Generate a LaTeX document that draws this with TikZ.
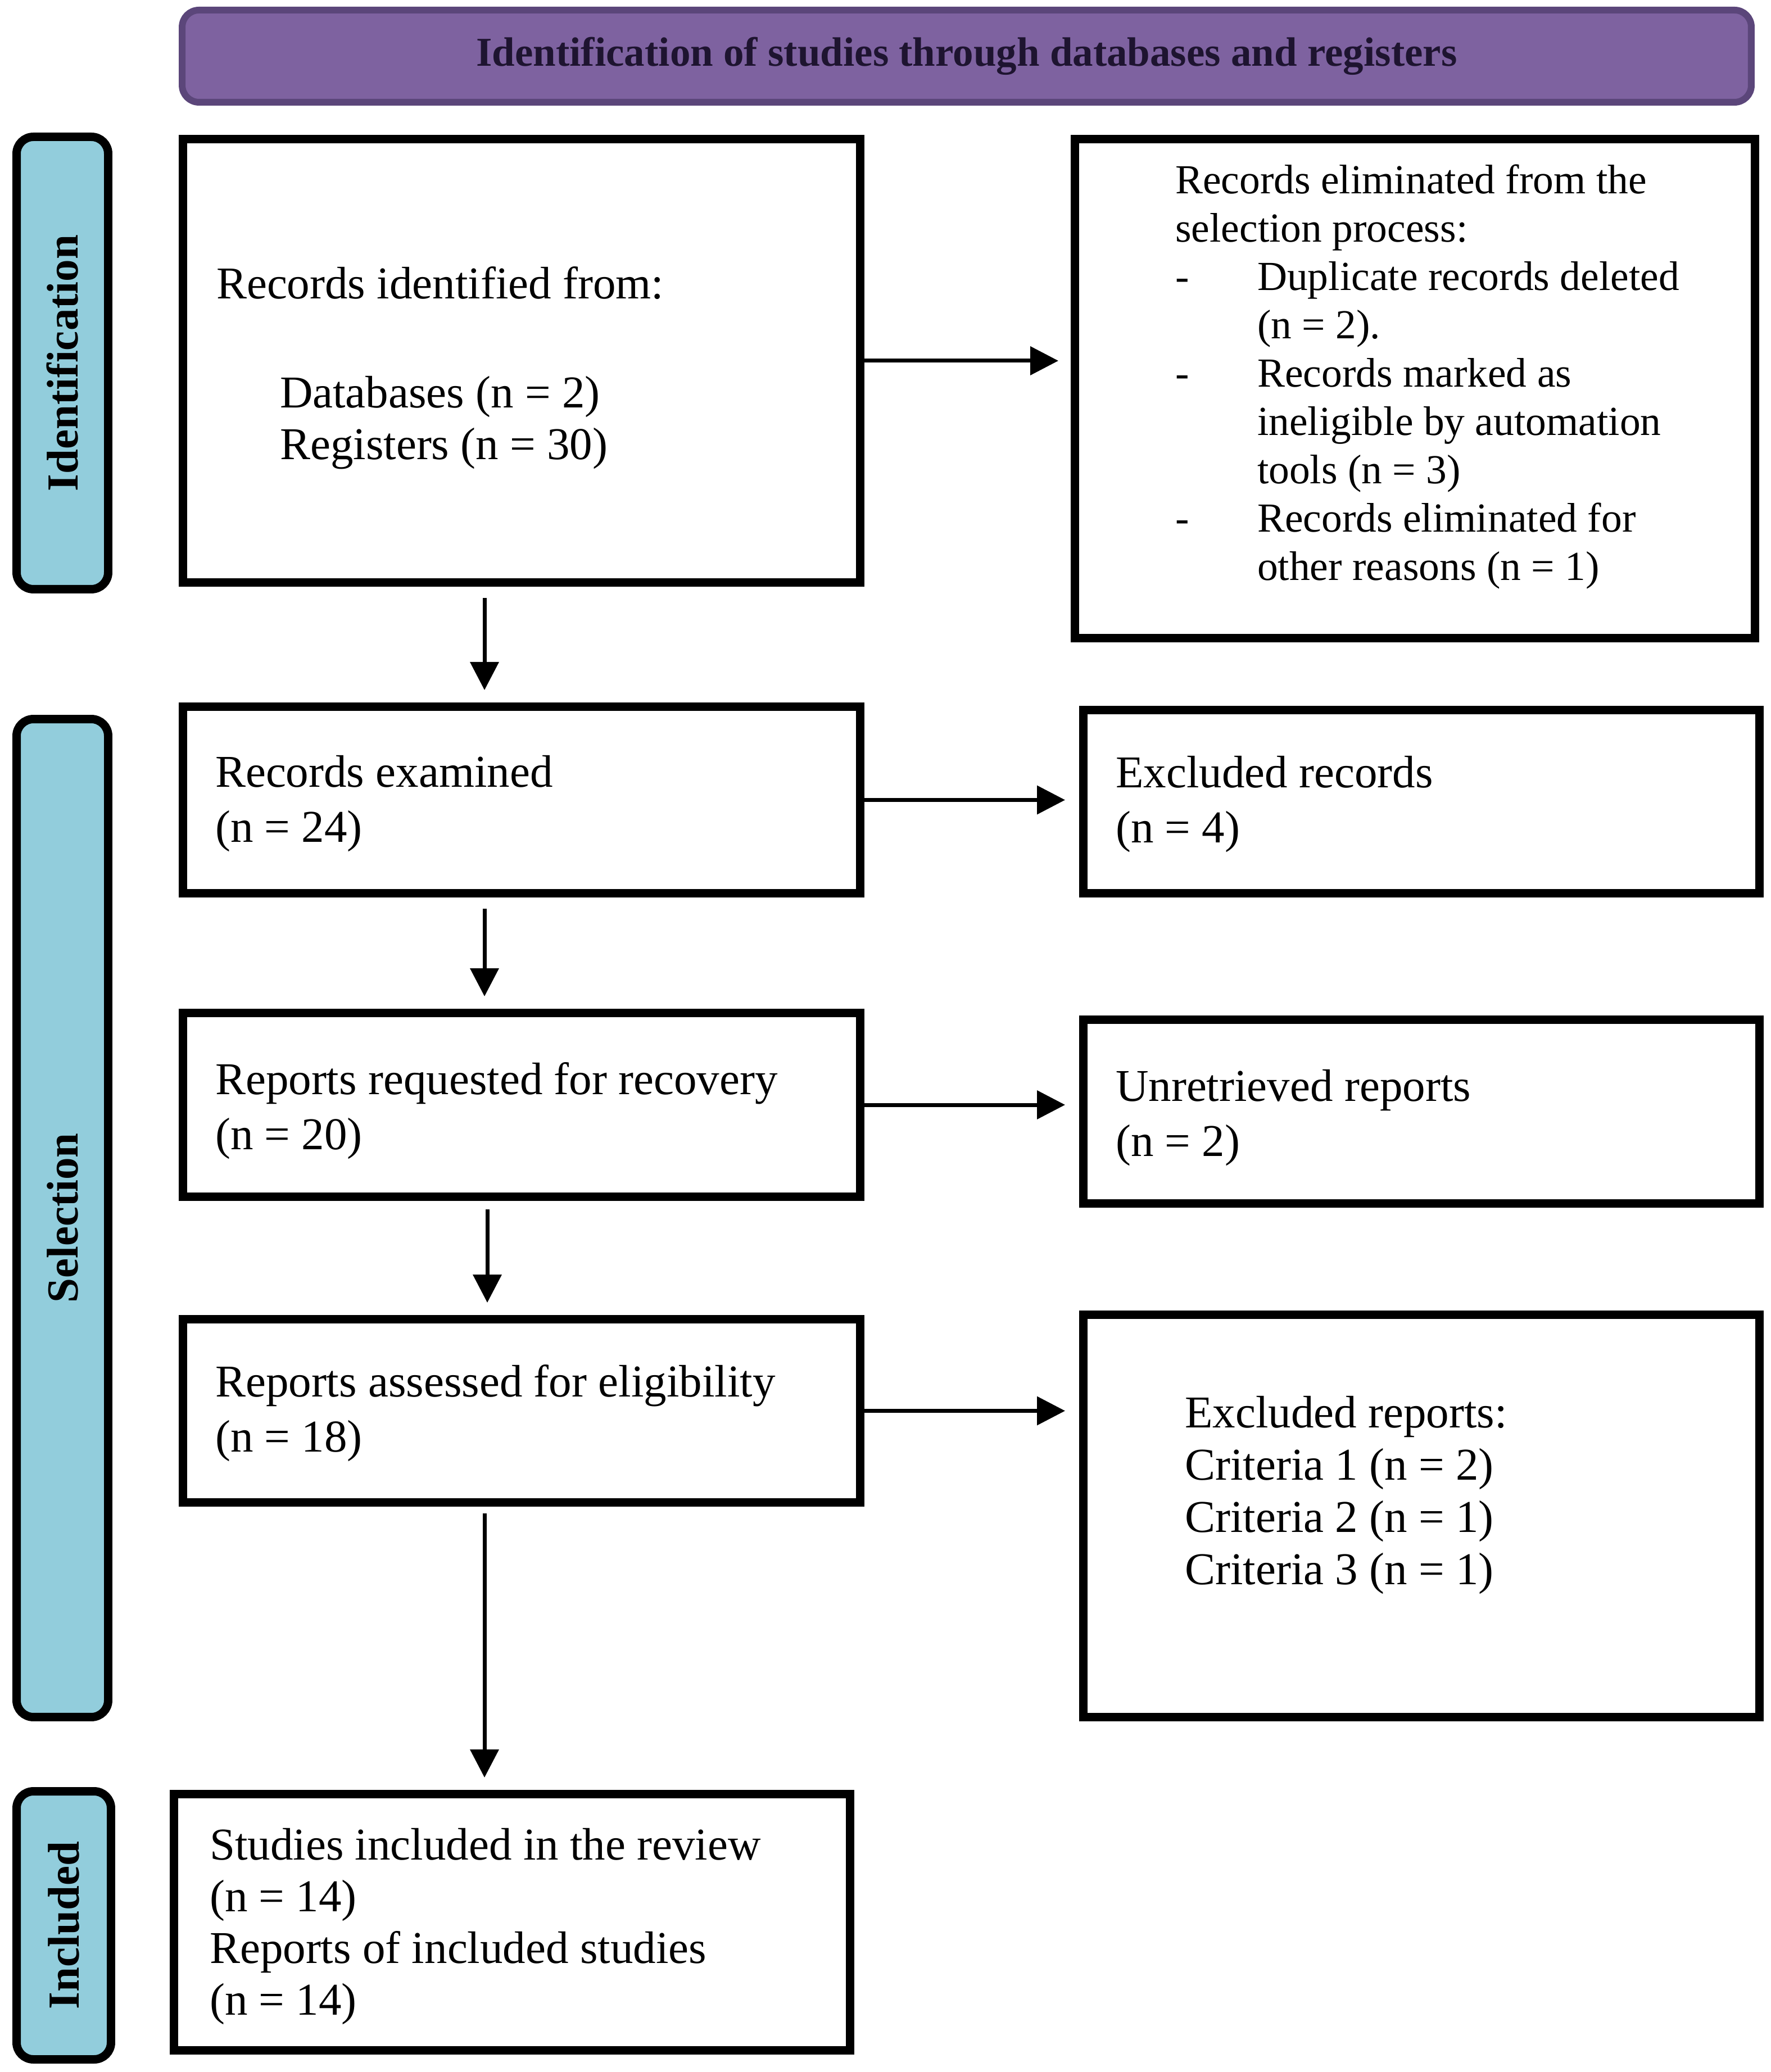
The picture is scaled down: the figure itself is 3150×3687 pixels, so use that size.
\documentclass[tikz,border=0pt]{standalone}
\usepackage{fontspec}
\setmainfont{Liberation Serif}
\usetikzlibrary{arrows.meta}
\definecolor{hdrfill}{HTML}{7E62A0}
\definecolor{hdrdraw}{HTML}{5B467A}
\definecolor{hdrtext}{HTML}{1E1430}
\definecolor{barfill}{HTML}{92CDDC}
\tikzset{
  box/.style={draw, line width=1.5pt, fill=white, inner sep=0pt},
  bar/.style={draw, line width=1.5pt, fill=barfill, rounded corners=3pt, inner sep=0pt},
  txt/.style={align=left, inner sep=0pt, font=\fontsize{8.1pt}{9.2pt}\selectfont},
  txtw/.style={align=left, inner sep=0pt, font=\fontsize{8.1pt}{9.8pt}\selectfont},
  arr/.style={line width=0.7pt, -{Triangle[length=5pt,width=5pt]}},
  lbl/.style={font=\fontsize{7.9pt}{9pt}\selectfont\bfseries, rotate=90, inner sep=0pt},
  hdr/.style={draw=hdrdraw, line width=1.2pt, fill=hdrfill, rounded corners=3pt, inner sep=0pt,
    text=hdrtext, font=\fontsize{7.3pt}{9pt}\selectfont\bfseries}
}
\newcommand{\dsh}{\makebox[14.6pt][l]{-}}
\begin{document}
\begin{tikzpicture}[x=0.1pt, y=-0.1pt]
\useasboundingbox (0,0) rectangle (3150,3687);

% header
\node[hdr, minimum width=279.2pt, minimum height=16.4pt] (hd) at (1720,100)
  {Identification of studies through databases and registers};

% side bars
\node[bar, minimum width=16.3pt, minimum height=80.5pt] (sb1) at (111,646) {};
\node[bar, minimum width=16.3pt, minimum height=177.6pt] (sb2) at (111,2167.5) {};
\node[bar, minimum width=16.8pt, minimum height=47.7pt] (sb3) at (113.5,3426) {};
\node[lbl] (l1) at (sb1) {Identification};
\node[lbl] (l2) at (sb2) {Selection};
\node[lbl] (l3) at (sb3) {Included};

% left column
\node[box, minimum width=120.5pt, minimum height=78.9pt] (b1) at (928,642) {};
\node[box, minimum width=120.5pt, minimum height=33.2pt] (b2) at (928,1423.5) {};
\node[box, minimum width=120.5pt, minimum height=32.7pt] (b3) at (928,1966) {};
\node[box, minimum width=120.5pt, minimum height=32.6pt] (b4) at (928,2510.5) {};
\node[box, minimum width=120.3pt, minimum height=45.6pt] (b5) at (911,3420.5) {};

% right column
\node[box, minimum width=121pt, minimum height=88.8pt] (r1) at (2517.5,691.5) {};
\node[box, minimum width=120.3pt, minimum height=32.6pt] (r2) at (2529,1426.5) {};
\node[box, minimum width=120.3pt, minimum height=32.7pt] (r3) at (2529,1978) {};
\node[box, minimum width=120.3pt, minimum height=71.6pt] (r4) at (2529,2697.5) {};

% texts
\node[txt, anchor=west] (t1) at ([xshift=6.5pt, yshift=-1.3pt]b1.west)
  {Records identified from:\\[10.2pt]
   \hspace*{11.3pt}Databases (n = 2)\\
   \hspace*{11.3pt}Registers (n = 30)};
\node[txtw, anchor=west] (t2) at ([xshift=6.3pt, yshift=-0.7pt]b2.west) {Records examined\\(n = 24)};
\node[txtw, anchor=west] (t3) at ([xshift=6.3pt, yshift=-1.1pt]b3.west) {Reports requested for recovery\\(n = 20)};
\node[txtw, anchor=west] (t4) at ([xshift=6.3pt, yshift=-0.4pt]b4.west) {Reports assessed for eligibility\\(n = 18)};
\node[txt, anchor=west] (t5) at ([xshift=6.9pt, yshift=-0.7pt]b5.west)
  {Studies included in the review\\(n = 14)\\Reports of included studies\\(n = 14)};

\node[txt, anchor=west, font=\fontsize{7.35pt}{8.6pt}\selectfont] (u1) at ([xshift=18.4pt, yshift=2.1pt]r1.west)
  {Records eliminated from the\\
   selection process:\\
   \dsh Duplicate records deleted\\
   \hspace*{14.6pt}(n = 2).\\
   \dsh Records marked as\\
   \hspace*{14.6pt}ineligible by automation\\
   \hspace*{14.6pt}tools (n = 3)\\
   \dsh Records eliminated for\\
   \hspace*{14.6pt}other reasons (n = 1)};
\node[txtw, anchor=west] (u2) at ([xshift=6.3pt, yshift=-0.5pt]r2.west) {Excluded records\\(n = 4)};
\node[txtw, anchor=west] (u3) at ([xshift=6.3pt, yshift=-1.1pt]r3.west) {Unretrieved reports\\(n = 2)};
\node[txt, anchor=west, font=\fontsize{8.1pt}{9.3pt}\selectfont] (u4) at ([xshift=18.6pt, yshift=3.7pt]r4.west)
  {Excluded reports:\\Criteria 1 (n = 2)\\Criteria 2 (n = 1)\\Criteria 3 (n = 1)};

% connectors
\coordinate (vx) at (862,0);
\coordinate (vy) at (867,0);
\draw[arr, shorten <=2pt, shorten >=2.2pt] (b1.south -| vx) -- (b2.north -| vx);
\draw[arr, shorten <=2pt, shorten >=2.2pt] (b2.south -| vx) -- (b3.north -| vx);
\draw[arr, shorten <=1.5pt, shorten >=2.2pt] (b3.south -| vy) -- (b4.north -| vy);
\draw[arr, shorten <=1.2pt, shorten >=2.2pt] (b4.south -| vx) -- (b5.north -| vx);
\draw[arr, shorten >=2.2pt] (b1.east) -- (b1.east -| r1.west);
\draw[arr, shorten >=2.5pt] (b2.east) -- (b2.east -| r2.west);
\draw[arr, shorten >=2.5pt] (b3.east) -- (b3.east -| r3.west);
\draw[arr, shorten >=2.5pt] (b4.east) -- (b4.east -| r4.west);
\end{tikzpicture}
\end{document}
